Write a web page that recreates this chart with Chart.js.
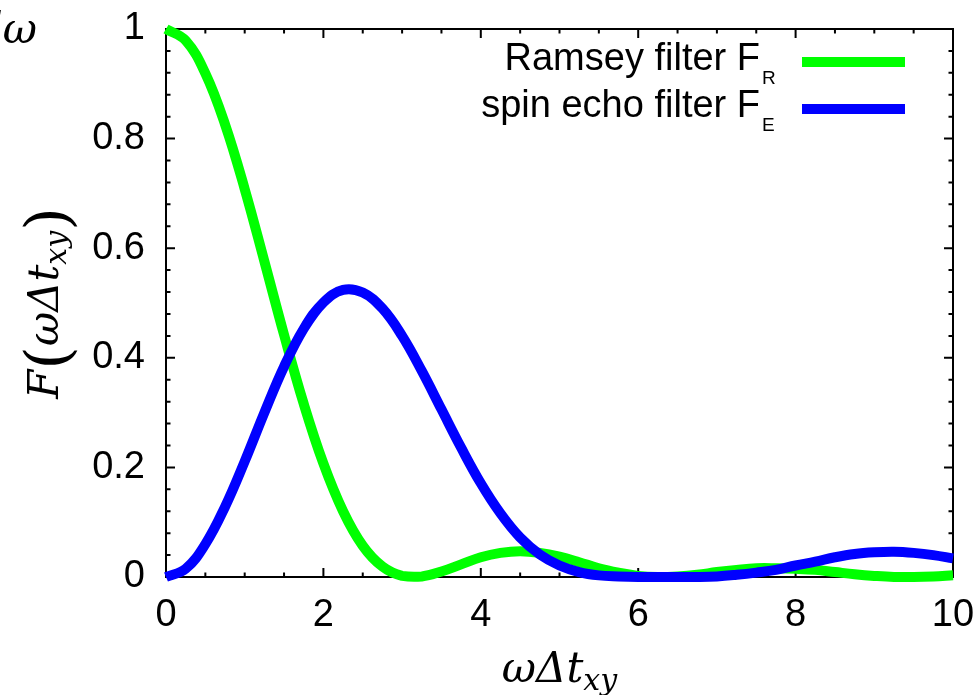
<!DOCTYPE html>
<html>
<head>
<meta charset="utf-8">
<script src="https://cdn.jsdelivr.net/npm/chart.js@4.4.1/dist/chart.umd.min.js"></script>
<style>
  html, body { margin: 0; padding: 0; background: #fff; }
  canvas { display: block; }
</style>
</head>
<body>
<canvas id="filterChart" width="975" height="695"></canvas>
<script>
// omega * delta t_xy
const xValues = [0, 0.25, 0.5, 0.75, 1, 1.25, 1.5, 1.75, 2, 2.25, 2.5, 2.75, 3, 3.25, 3.5, 3.75,
    4, 4.25, 4.5, 4.75, 5, 5.25, 5.5, 5.75, 6, 6.25, 6.5, 6.75, 7, 7.25, 7.5, 7.75,
    8, 8.25, 8.5, 8.75, 9, 9.25, 9.5, 9.75, 10];

const ramseyValues = [1.000, 0.979, 0.919, 0.826, 0.708, 0.576, 0.442, 0.316, 0.207, 0.120, 0.057, 0.019,
    0.002, 0.001, 0.010, 0.023, 0.036, 0.044, 0.047, 0.044, 0.037, 0.027, 0.016, 0.008,
    0.002, 0.000, 0.001, 0.004, 0.009, 0.013, 0.016, 0.016, 0.015, 0.013, 0.009, 0.005,
    0.002, 0.000, 0.000, 0.001, 0.003];

const echoValues = [0.000, 0.015, 0.060, 0.128, 0.211, 0.300, 0.384, 0.453, 0.501, 0.524, 0.519, 0.490,
    0.440, 0.376, 0.306, 0.236, 0.171, 0.116, 0.072, 0.041, 0.021, 0.009, 0.003, 0.001,
    0.000, 0.000, 0.000, 0.000, 0.001, 0.004, 0.008, 0.013, 0.021, 0.028, 0.036, 0.042,
    0.045, 0.046, 0.044, 0.040, 0.034];

const seriesLabels = ['Ramsey filter F', 'spin echo filter F'];
const seriesSubs = ['R', 'E'];

const toPoints = (ys) => xValues.map((x, i) => ({ x: x, y: ys[i] }));

const tickFont = { family: '"Liberation Sans", Arial, sans-serif', size: 38 };
const mathItalic = 'italic 42px "DejaVu Serif", serif';
const mathSub = 'italic 30px "DejaVu Serif", serif';
const parenFont = '60px "DejaVu Serif", serif';

// draw a row of text pieces, each with its own font and baseline shift
const drawRuns = (ctx, runs, x, y, align) => {
    let total = 0;
    runs.forEach(r => { ctx.font = r[1]; total += ctx.measureText(r[0]).width; });
    let cx = align === 'center' ? x - total / 2 : (align === 'right' ? x - total : x);
    runs.forEach(r => {
        ctx.font = r[1];
        ctx.fillText(r[0], cx, y + r[2]);
        cx += ctx.measureText(r[0]).width;
    });
};

const framePlugin = {
    id: 'frame',
    beforeDatasetsDraw(chart) {
        const { ctx, chartArea: a, scales: { x, y } } = chart;
        ctx.save();
        ctx.strokeStyle = '#000';
        ctx.lineWidth = 2;
        ctx.strokeRect(a.left, a.top, a.right - a.left, a.bottom - a.top);
        ctx.beginPath();
        for (let i = 0; i <= 20; i++) {
            const px = x.getPixelForValue(i * 0.5);
            const len = i % 4 === 0 ? 9 : 4.5;
            ctx.moveTo(px, a.bottom); ctx.lineTo(px, a.bottom - len);
            ctx.moveTo(px, a.top); ctx.lineTo(px, a.top + len);
        }
        for (let i = 0; i <= 25; i++) {
            const py = y.getPixelForValue(i * 0.04);
            const len = i % 5 === 0 ? 9 : 4.5;
            ctx.moveTo(a.left, py); ctx.lineTo(a.left + len, py);
            ctx.moveTo(a.right, py); ctx.lineTo(a.right - len, py);
        }
        ctx.stroke();
        ctx.restore();
    },
    afterDraw(chart) {
        const { ctx, chartArea: a } = chart;
        ctx.save();
        ctx.fillStyle = '#000';
        ctx.textBaseline = 'alphabetic';

        // legend, gnuplot style: text right aligned, then the line sample
        const legendBase = [70, 117];
        chart.data.datasets.forEach((ds) => {
            const idx = ds.legendIndex;
            const base = legendBase[idx];
            ctx.font = '38px "Liberation Sans", Arial, sans-serif';
            ctx.textAlign = 'right';
            ctx.fillText(seriesLabels[idx], 760, base);
            ctx.textAlign = 'left';
            ctx.font = '19px "Liberation Sans", Arial, sans-serif';
            ctx.fillText(seriesSubs[idx], 762, base + 14);
            ctx.strokeStyle = ds.borderColor;
            ctx.lineWidth = ds.borderWidth;
            ctx.beginPath();
            ctx.moveTo(802, base - 8);
            ctx.lineTo(905, base - 8);
            ctx.stroke();
        });

        ctx.textAlign = 'left';
        // x axis title
        drawRuns(ctx, [['ωΔt', mathItalic, 0], ['xy', mathSub, 8]], (a.left + a.right) / 2, 682, 'center');

        // y axis title
        ctx.save();
        ctx.translate(58, 303);
        ctx.rotate(-Math.PI / 2);
        drawRuns(ctx, [['F', mathItalic, 0], ['(', parenFont, 10], ['ωΔt', mathItalic, 0],
            ['xy', mathSub, 8], [')', parenFont, 10]], 0, 0, 'center');
        ctx.restore();

        // leftover from the integral in the source figure
        drawRuns(ctx, [['dω', mathItalic, 0]], 37, 43, 'right');
        ctx.restore();
    }
};

new Chart(document.getElementById('filterChart'), {
    type: 'line',
    data: {
        datasets: [
            {
                label: seriesLabels[1],
                legendIndex: 1,
                data: toPoints(echoValues),
                borderColor: '#0000ff',
                borderWidth: 10,
                pointRadius: 0,
                tension: 0.4,
                clip: 6
            },
            {
                label: seriesLabels[0],
                legendIndex: 0,
                data: toPoints(ramseyValues),
                borderColor: '#00ff00',
                borderWidth: 10,
                pointRadius: 0,
                tension: 0.4,
                clip: 6
            }
        ]
    },
    options: {
        responsive: false,
        animation: false,
        devicePixelRatio: 1,
        layout: { padding: { top: 29, right: 22, left: 0, bottom: 0 } },
        plugins: { legend: { display: false }, tooltip: { enabled: false } },
        scales: {
            x: {
                type: 'linear',
                min: 0,
                max: 10,
                ticks: { stepSize: 2, font: tickFont, color: '#000', padding: 16, maxRotation: 0 },
                grid: { display: false, drawTicks: false },
                border: { display: false },
                afterFit(scale) {
                    scale.height = 118;
                    scale.paddingLeft = 0;
                    scale.paddingRight = 0;
                }
            },
            y: {
                min: 0,
                max: 1,
                ticks: {
                    stepSize: 0.2, font: tickFont, color: '#000', padding: 21,
                    callback: (v) => String(Math.round(v * 10) / 10)
                },
                grid: { display: false, drawTicks: false },
                border: { display: false },
                afterFit(scale) {
                    scale.width = 166;
                    scale.paddingTop = 0;
                    scale.paddingBottom = 0;
                }
            }
        }
    },
    plugins: [framePlugin]
});
</script>
</body>
</html>
